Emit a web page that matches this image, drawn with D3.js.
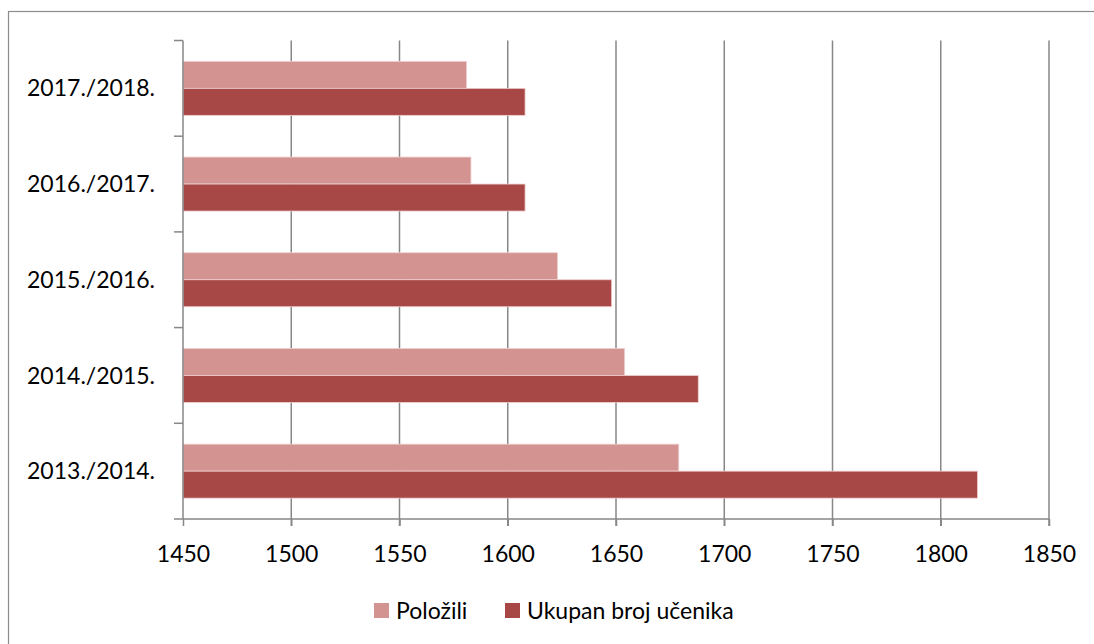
<!DOCTYPE html>
<html>
<head>
<meta charset="utf-8">
<script src="https://cdn.jsdelivr.net/npm/d3@7"></script>
<style>
  body { margin: 0; background: #fff; }
  text { font-family: Lato, "Open Sans", sans-serif; fill: #000; }
</style>
</head>
<body>
<div id="chart"></div>
<script>
// data (top to bottom)
var years = ["2017./2018.", "2016./2017.", "2015./2016.", "2014./2015.", "2013./2014."];
var polozili = [1581, 1583, 1623, 1654, 1679];
var ukupno = [1608, 1608, 1648, 1688, 1817];
var xTicks = [1450, 1500, 1550, 1600, 1650, 1700, 1750, 1800, 1850];
var seriesNames = ["Položili", "Ukupan broj učenika"];
var colors = ["#d39391", "#a84846"];

var W = 1094, H = 644,
    plotLeft = 183, plotRight = 1049, plotTop = 40.5, plotBottom = 519,
    fontSize = "23px";

var svg = d3.select("#chart").append("svg")
    .attr("width", W)
    .attr("height", H);

// outer chart frame
svg.append("rect")
    .attr("x", 8.5).attr("y", 11.5)
    .attr("width", W).attr("height", H)
    .style("fill", "none")
    .style("stroke", "#8c8c8c")
    .style("stroke-width", 1.2);

var x = d3.scaleLinear().domain([1450, 1850]).range([plotLeft, plotRight]);
var y = d3.scaleBand().domain(years).range([plotTop, plotBottom]);
var inner = d3.scaleBand().domain([0, 1]).range([0, 54]);
var barOffset = (y.bandwidth() - 54) / 2;

// vertical gridlines
svg.append("g").selectAll("line")
    .data(xTicks.slice(1)).enter().append("line")
    .attr("x1", function(d) { return x(d); })
    .attr("x2", function(d) { return x(d); })
    .attr("y1", plotTop).attr("y2", plotBottom + 7)
    .style("stroke", "#878787")
    .style("stroke-width", 1.5);

// bars
var rows = years.map(function(yr, i) { return { year: yr, vals: [polozili[i], ukupno[i]] }; });
var groups = svg.append("g").selectAll("g.row")
    .data(rows).enter().append("g")
    .attr("class", "row")
    .attr("transform", function(d) { return "translate(0," + (y(d.year) + barOffset) + ")"; });

groups.selectAll("rect")
    .data(function(d) { return d.vals; }).enter().append("rect")
    .attr("x", x(1450))
    .attr("y", function(d, i) { return inner(i); })
    .attr("width", function(d) { return x(d) - x(1450); })
    .attr("height", inner.bandwidth())
    .style("fill", function(d, i) { return colors[i]; })
    .style("stroke", "#f0d0d0")
    .style("stroke-width", 0.8);

// x axis
var xAxis = svg.append("g")
    .attr("transform", "translate(0," + plotBottom + ")")
    .call(d3.axisBottom(x).tickValues(xTicks).tickFormat(d3.format("d"))
        .tickSize(7).tickSizeOuter(0).tickPadding(20));
xAxis.selectAll("line").style("stroke", "#878787").style("stroke-width", 1.5);
xAxis.select(".domain").attr("d", "M" + (plotLeft - 9) + ",0H" + plotRight)
    .style("stroke", "#878787").style("stroke-width", 1.5);
xAxis.selectAll("text").style("font-size", fontSize).style("font-family", "Lato, 'Open Sans', sans-serif");

// y axis: ticks on category boundaries
var yAxis = svg.append("g");
yAxis.append("line")
    .attr("x1", plotLeft).attr("x2", plotLeft)
    .attr("y1", plotTop).attr("y2", plotBottom)
    .style("stroke", "#878787").style("stroke-width", 1.5);
yAxis.selectAll("line.tick")
    .data(years).enter().append("line")
    .attr("class", "tick")
    .attr("x1", plotLeft - 9).attr("x2", plotLeft)
    .attr("y1", function(d) { return y(d); })
    .attr("y2", function(d) { return y(d); })
    .style("stroke", "#878787").style("stroke-width", 1.5);
yAxis.selectAll("text")
    .data(years).enter().append("text")
    .attr("x", plotLeft - 28)
    .attr("y", function(d) { return y(d) + y.bandwidth() / 2; })
    .attr("dy", "0.35em")
    .attr("text-anchor", "end")
    .style("font-size", fontSize)
    .text(function(d) { return d; });

// legend
var legendX = [374, 505];
var legend = svg.append("g").selectAll("g.leg")
    .data(seriesNames).enter().append("g")
    .attr("transform", function(d, i) { return "translate(" + legendX[i] + ",603)"; });
legend.append("rect")
    .attr("width", 15).attr("height", 15)
    .style("fill", function(d, i) { return colors[i]; });
legend.append("text")
    .attr("x", 22).attr("y", 8)
    .attr("dy", "0.35em")
    .style("font-size", fontSize)
    .text(function(d) { return d; });
</script>
</body>
</html>
